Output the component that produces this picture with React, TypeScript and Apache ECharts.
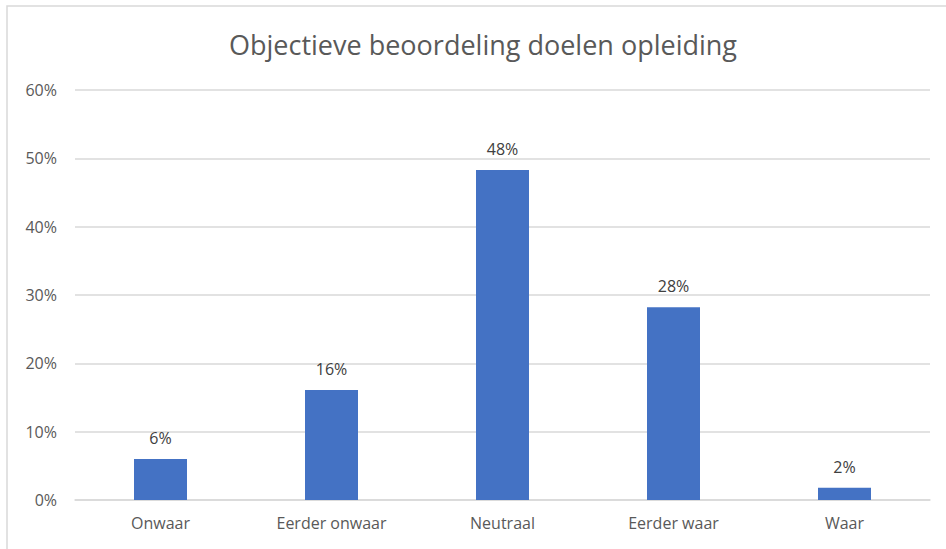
import React, { useEffect, useRef } from "react";
import * as echarts from "echarts";

const categories = ["Onwaar", "Eerder onwaar", "Neutraal", "Eerder waar", "Waar"];
const values = [6.0, 16.1, 48.3, 28.2, 1.8];
const yTicks = [0, 10, 20, 30, 40, 50, 60];
const titleText = "Objectieve beoordeling doelen opleiding";

const FONT = "'Open Sans', 'Noto Sans', sans-serif";

export default function App() {
  const ref = useRef<HTMLDivElement>(null);
  useEffect(() => {
    if (!ref.current) return;
    const chart = echarts.init(ref.current, undefined, { renderer: "svg" });
    chart.setOption({
      animation: false,
      backgroundColor: "#ffffff",
      textStyle: { fontFamily: FONT },
      title: {
        text: titleText,
        left: 224,
        top: 26,
        textStyle: { fontFamily: FONT, fontSize: 27, fontWeight: "normal", color: "#595959" },
      },
      graphic: [
        {
          type: "rect",
          shape: { x: 7, y: 6, width: 960, height: 560 },
          style: { fill: "none", stroke: "#d9d9d9", lineWidth: 1.5 },
          silent: true,
        },
      ],
      grid: { left: 75, right: 16, top: 90, bottom: 49, containLabel: false },
      xAxis: {
        type: "category",
        data: categories,
        axisLine: { show: true, lineStyle: { color: "#d9d9d9", width: 1.5 } },
        axisTick: { show: false },
        axisLabel: { color: "#595959", fontSize: 16, margin: 15, fontFamily: FONT },
      },
      yAxis: {
        type: "value",
        min: yTicks[0],
        max: yTicks[yTicks.length - 1],
        interval: 10,
        axisLine: { show: false },
        axisTick: { show: false },
        splitLine: { lineStyle: { color: "#d9d9d9", width: 1.5 } },
        axisLabel: {
          color: "#595959",
          fontSize: 16,
          margin: 18,
          fontFamily: FONT,
          formatter: (v: number) => `${v}%`,
        },
      },
      series: [
        {
          type: "bar",
          data: values,
          barWidth: 53,
          itemStyle: { color: "#4472c4" },
          label: {
            show: true,
            position: "top",
            distance: 13,
            color: "#404040",
            fontSize: 16,
            fontFamily: FONT,
            formatter: (p: any) => `${Math.round(p.value)}%`,
          },
        },
      ],
    });
    return () => chart.dispose();
  }, []);
  return (
    <div
      ref={ref}
      style={{ position: "absolute", left: 0, top: 0, width: 946, height: 549 }}
    />
  );
}
